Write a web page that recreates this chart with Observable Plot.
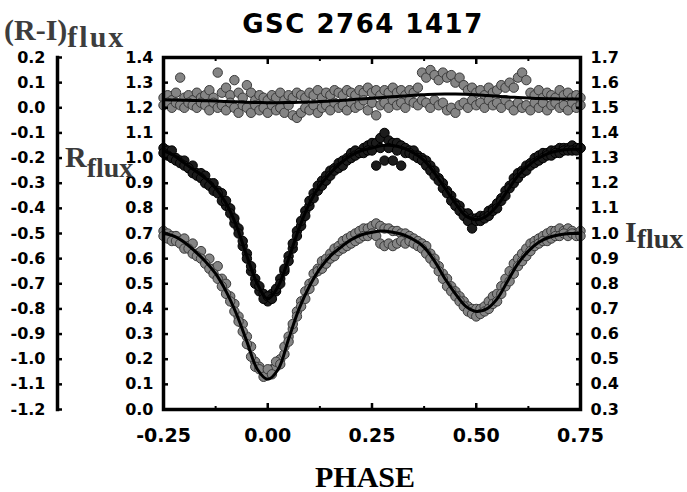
<!DOCTYPE html>
<html>
<head>
<meta charset="utf-8">
<script src="https://cdn.jsdelivr.net/npm/d3@7"></script>
<script src="https://cdn.jsdelivr.net/npm/@observablehq/plot@0.6"></script>
<style>
  body { margin: 0; background: #fff; }
  #wrap { position: relative; width: 687px; height: 492px; overflow: hidden; background: #fff; }
  #wrap > svg { position: absolute; left: 0; top: 0; }
</style>
</head>
<body>
<div id="wrap"></div>
<script>
// ---------- data ----------
const phase = [
-0.25,-0.24,-0.23,-0.22,-0.21,-0.20,-0.19,-0.18,-0.17,-0.16,
-0.15,-0.14,-0.13,-0.12,-0.11,-0.10,-0.09,-0.08,-0.07,-0.06,
-0.05,-0.04,-0.03,-0.02,-0.01,0.00,0.01,0.02,0.03,0.04,
0.05,0.06,0.07,0.08,0.09,0.10,0.11,0.12,0.13,0.14,
0.15,0.16,0.17,0.18,0.19,0.20,0.21,0.22,0.23,0.24,
0.25,0.26,0.27,0.28,0.29,0.30,0.31,0.32,0.33,0.34,
0.35,0.36,0.37,0.38,0.39,0.40,0.41,0.42,0.43,0.44,
0.45,0.46,0.47,0.48,0.49,0.50,0.51,0.52,0.53,0.54,
0.55,0.56,0.57,0.58,0.59,0.60,0.61,0.62,0.63,0.64,
0.65,0.66,0.67,0.68,0.69,0.70,0.71,0.72,0.73,0.74,
0.75];

// R flux, two observing sets
const rFluxA = [
1.04,1.03,1.03,1.00,0.99,0.99,0.96,0.97,0.94,0.94,
0.93,0.90,0.90,0.87,0.86,0.81,0.80,0.74,0.72,0.65,
0.62,0.55,0.52,0.47,0.46,0.43,0.46,0.47,0.52,0.55,
0.61,0.64,0.71,0.73,0.79,0.81,0.86,0.87,0.91,0.93,
0.95,0.96,0.98,0.99,1.00,1.02,1.03,1.02,1.04,1.05,
1.06,1.06,1.08,1.10,1.07,1.06,1.06,1.05,1.04,1.03,
1.03,1.01,1.00,0.99,0.97,0.95,0.92,0.90,0.87,0.85,
0.82,0.81,0.78,0.78,0.76,0.76,0.77,0.77,0.79,0.80,
0.82,0.84,0.87,0.89,0.92,0.94,0.95,0.97,0.98,1.00,
1.01,1.02,1.02,1.03,1.03,1.04,1.04,1.04,1.05,1.04,
1.04];
const rFluxB = [
1.02,1.01,1.00,0.99,0.98,0.97,0.96,0.94,0.93,0.92,
0.90,0.89,0.87,0.86,0.83,0.83,0.78,0.76,0.70,0.67,
0.60,0.57,0.50,0.49,0.44,0.45,0.44,0.48,0.50,0.56,
0.59,0.66,0.69,0.75,0.77,0.83,0.84,0.89,0.89,0.91,
0.93,0.95,0.96,0.97,0.99,1.00,1.01,1.02,1.02,1.03,
1.03,0.97,1.04,0.99,1.04,0.99,1.03,0.97,1.02,1.02,
1.01,1.00,0.99,0.97,0.95,0.93,0.91,0.88,0.86,0.83,
0.81,0.79,0.77,0.75,0.72,0.75,0.75,0.76,0.77,0.79,
0.80,0.83,0.85,0.88,0.90,0.92,0.94,0.95,0.97,0.98,
0.99,1.00,1.01,1.01,1.02,1.02,1.03,1.03,1.03,1.03,
1.04];

// I flux (right axis units)
const iFluxA = [
1.01,1.00,0.99,0.99,0.97,0.98,0.95,0.96,0.92,0.93,
0.89,0.90,0.86,0.87,0.82,0.80,0.75,0.72,0.67,0.64,
0.59,0.55,0.49,0.47,0.45,0.44,0.46,0.47,0.50,0.52,
0.59,0.62,0.69,0.73,0.77,0.80,0.84,0.86,0.89,0.90,
0.92,0.94,0.95,0.97,0.98,0.99,1.00,1.01,1.02,1.02,
1.03,1.04,1.03,1.02,1.02,1.01,1.01,1.00,1.00,0.99,
0.98,0.97,0.96,0.95,0.92,0.90,0.87,0.84,0.82,0.79,
0.77,0.75,0.73,0.71,0.70,0.70,0.70,0.71,0.73,0.75,
0.76,0.79,0.82,0.85,0.88,0.90,0.92,0.94,0.96,0.97,
0.98,0.99,1.00,1.01,1.01,1.02,1.01,1.02,1.01,1.00,
1.01];
const iFluxB = [
0.99,0.98,0.97,0.97,0.96,0.94,0.94,0.92,0.91,0.90,
0.88,0.86,0.84,0.82,0.79,0.76,0.73,0.69,0.65,0.61,
0.56,0.51,0.47,0.46,0.43,0.46,0.44,0.49,0.48,0.55,
0.57,0.64,0.67,0.71,0.74,0.78,0.81,0.85,0.86,0.88,
0.90,0.91,0.93,0.94,0.95,0.96,0.97,0.98,0.99,0.99,
1.00,0.99,0.96,0.95,0.96,0.95,0.96,0.97,0.96,0.97,
0.96,0.95,0.94,0.92,0.90,0.88,0.85,0.82,0.79,0.77,
0.75,0.73,0.71,0.69,0.68,0.67,0.68,0.69,0.70,0.72,
0.73,0.76,0.79,0.81,0.84,0.87,0.89,0.91,0.93,0.95,
0.96,0.97,0.97,0.98,0.99,0.99,1.00,0.99,1.00,0.99,
0.99];

// (R-I) flux (far-left axis units)
const riFluxA = [
0.04,0.05,0.03,0.06,0.12,0.04,0.05,0.03,0.06,0.04,
0.05,0.07,0.04,0.14,0.06,0.08,0.05,0.11,0.06,0.04,
0.09,0.06,0.03,0.05,0.04,0.03,0.05,0.04,0.06,0.03,
0.05,0.04,0.06,0.05,0.04,0.06,0.05,0.07,0.04,0.06,
0.05,0.07,0.06,0.05,0.07,0.06,0.05,0.07,0.06,0.08,
0.06,0.07,0.05,0.07,0.06,0.08,0.06,0.07,0.05,0.07,
0.06,0.08,0.14,0.12,0.15,0.13,0.11,0.14,0.12,0.13,
0.10,0.12,0.09,0.07,0.08,0.06,0.07,0.05,0.08,0.06,
0.07,0.09,0.08,0.10,0.08,0.12,0.14,0.11,0.06,0.05,
0.07,0.04,0.06,0.05,0.04,0.07,0.05,0.06,0.04,0.05,
0.04];
const riFluxB = [
0.01,0.02,0.00,0.02,0.01,0.00,0.02,0.01,0.00,0.02,
0.01,-0.01,0.02,0.00,0.01,-0.01,0.02,0.00,-0.02,0.01,
0.00,-0.02,0.01,-0.01,0.00,-0.02,0.01,-0.01,0.00,-0.02,
0.01,-0.03,-0.04,-0.02,0.00,-0.01,0.01,-0.02,0.00,0.01,
-0.01,0.02,0.00,0.01,-0.01,0.02,0.00,0.01,0.03,-0.01,
0.02,-0.03,0.01,0.02,0.00,0.03,0.01,0.02,0.00,0.03,
0.02,0.01,0.03,0.02,0.00,0.03,0.01,0.02,-0.01,0.00,
-0.02,0.01,0.02,0.00,0.03,0.01,0.02,0.00,0.03,0.01,
0.02,0.00,0.03,0.01,-0.01,0.02,0.00,0.01,-0.01,0.02,
0.00,0.02,-0.01,0.01,0.02,0.00,0.01,-0.01,0.02,0.00,
0.01];

// model fits
const fitPhase = [
-0.25,-0.225,-0.2,-0.175,-0.15,-0.125,-0.1,-0.075,-0.05,-0.025,
0,0.025,0.05,0.075,0.1,0.125,0.15,0.175,0.2,0.225,
0.25,0.275,0.3,0.325,0.35,0.375,0.4,0.425,0.45,0.475,
0.5,0.525,0.55,0.575,0.6,0.625,0.65,0.675,0.7,0.725,
0.75];
const rFit = [
1.03,1.01,0.98,0.95,0.92,0.88,0.82,0.73,0.61,0.50,
0.44,0.49,0.60,0.72,0.82,0.89,0.94,0.98,1.01,1.03,
1.04,1.05,1.05,1.04,1.02,0.99,0.94,0.88,0.82,0.77,
0.755,0.77,0.81,0.87,0.93,0.97,1.00,1.02,1.03,1.035,
1.035];
const iFit = [
1.00,0.99,0.965,0.93,0.89,0.84,0.77,0.68,0.57,0.46,
0.42,0.46,0.58,0.70,0.79,0.86,0.91,0.945,0.975,0.995,
1.005,1.01,1.005,0.995,0.975,0.945,0.89,0.82,0.76,0.71,
0.69,0.70,0.74,0.81,0.88,0.93,0.965,0.985,0.995,1.00,
1.00];
const riFit = [
0.032,0.031,0.030,0.029,0.028,0.027,0.025,0.024,0.022,0.021,
0.020,0.020,0.021,0.022,0.023,0.025,0.027,0.029,0.032,0.035,
0.038,0.041,0.044,0.047,0.050,0.052,0.054,0.055,0.055,0.054,
0.052,0.049,0.046,0.043,0.041,0.039,0.037,0.036,0.035,0.035,
0.035];

// axes
const xTicks = [-0.25, 0.00, 0.25, 0.50, 0.75];
const xMinorTicks = [-0.125, 0.125, 0.375, 0.625];
const rTicks = [0.0,0.1,0.2,0.3,0.4,0.5,0.6,0.7,0.8,0.9,1.0,1.1,1.2,1.3,1.4];
const iTicks = [0.3,0.4,0.5,0.6,0.7,0.8,0.9,1.0,1.1,1.2,1.3,1.4,1.5,1.6,1.7];
const riTicks = [-1.2,-1.1,-1.0,-0.9,-0.8,-0.7,-0.6,-0.5,-0.4,-0.3,-0.2,-0.1,0.0,0.1,0.2];

// offsets that map each flux onto the shared R-flux frame
const I_OFFSET = 0.3;   // I = R-frame + 0.3
const RI_OFFSET = 1.2;  // R-I = R-frame - 1.2

// ---------- tables ----------
const pts = (vals, shift) => phase.map((p, i) => ({phase: p, y: vals[i] + shift}));
const fit = (vals, shift) => fitPhase.map((p, i) => ({phase: p, y: vals[i] + shift}));

const W = 687, H = 492;
const M = {top: 57, bottom: 83, left: 163, right: 107};
const tickFont = "'DejaVu Sans', 'Liberation Sans', sans-serif";

const grayDot = {r: 4.7, fill: "#858585", stroke: "#3b3b3b", strokeWidth: 1};
const blackDot = {r: 4.7, fill: "#1c1c1c", stroke: "#000", strokeWidth: 1};
const fitLine = {curve: "catmull-rom", stroke: "#000", strokeWidth: 3};

const main = Plot.plot({
  width: W, height: H,
  marginTop: M.top, marginBottom: M.bottom, marginLeft: M.left, marginRight: M.right,
  style: {fontFamily: tickFont, fontWeight: "bold", fontSize: "16px", color: "#000", background: "transparent"},
  x: {domain: [-0.25, 0.75], axis: null},
  y: {domain: [0, 1.4], axis: null},
  marks: [
    Plot.dot(pts(riFluxA, RI_OFFSET), {x: "phase", y: "y", ...grayDot}),
    Plot.dot(pts(riFluxB, RI_OFFSET), {x: "phase", y: "y", ...grayDot}),
    Plot.dot(pts(rFluxA, 0), {x: "phase", y: "y", ...blackDot}),
    Plot.dot(pts(rFluxB, 0), {x: "phase", y: "y", ...blackDot}),
    Plot.dot(pts(iFluxA, -I_OFFSET), {x: "phase", y: "y", ...grayDot}),
    Plot.dot(pts(iFluxB, -I_OFFSET), {x: "phase", y: "y", ...grayDot}),
    Plot.line(fit(riFit, RI_OFFSET), {x: "phase", y: "y", ...fitLine}),
    Plot.line(fit(rFit, 0), {x: "phase", y: "y", ...fitLine}),
    Plot.line(fit(iFit, -I_OFFSET), {x: "phase", y: "y", ...fitLine}),
    Plot.frame({stroke: "#000", strokeWidth: 3.5}),
    Plot.axisY(rTicks, {anchor: "left", label: null, tickSize: -5, tickPadding: 15, strokeWidth: 2.5,
      tickFormat: d => d.toFixed(1), fontSize: 16}),
    Plot.axisY(iTicks.map(v => v - I_OFFSET), {anchor: "right", label: null, tickSize: -5, tickPadding: 15, strokeWidth: 2.5,
      tickFormat: d => (d + I_OFFSET).toFixed(1), fontSize: 16}),
    Plot.axisX(xTicks, {anchor: "bottom", label: null, tickSize: -6, tickPadding: 25, strokeWidth: 2.5,
      tickFormat: d => d.toFixed(2), fontSize: 19}),
    Plot.axisX(xTicks, {anchor: "top", label: null, tickSize: -6, strokeWidth: 2.5, tickFormat: () => ""}),
    Plot.axisX(xMinorTicks, {anchor: "bottom", label: null, tickSize: -3, strokeWidth: 2, tickFormat: () => ""}),
    Plot.axisX(xMinorTicks, {anchor: "top", label: null, tickSize: -3, strokeWidth: 2, tickFormat: () => ""})
  ]
});

const side = Plot.plot({
  width: 70, height: H,
  marginTop: M.top, marginBottom: M.bottom, marginLeft: 57, marginRight: 8,
  style: {fontFamily: tickFont, fontWeight: "bold", fontSize: "16px", color: "#000", background: "transparent"},
  y: {domain: [-1.2, 0.2], axis: null},
  marks: [
    Plot.frame({anchor: "left", stroke: "#000", strokeWidth: 3.5}),
    Plot.axisY(riTicks, {anchor: "left", label: null, tickSize: -5, tickPadding: 17, strokeWidth: 2.5,
      tickFormat: d => d.toFixed(1), fontSize: 16})
  ]
});

const wrap = document.getElementById("wrap");
wrap.appendChild(main);
wrap.appendChild(side);

// ---------- titles & axis labels ----------
const ann = d3.select(wrap).append("svg").attr("width", W).attr("height", H);
ann.append("text").attr("x", 363).attr("y", 33).attr("text-anchor", "middle")
  .attr("font-family", tickFont).attr("font-weight", "bold").attr("font-size", 26)
  .attr("letter-spacing", 1.5).attr("fill", "#000").text("GSC 2764 1417");

const serif = "'Liberation Serif', 'Times New Roman', serif";
function subLabel(x, y, main, sub, mainSize, subSize, dy, color, ls) {
  const t = ann.append("text").attr("x", x).attr("y", y)
    .attr("font-family", serif).attr("font-weight", "bold").attr("fill", color);
  t.append("tspan").attr("font-size", mainSize).text(main);
  t.append("tspan").attr("font-size", subSize).attr("dy", dy).attr("letter-spacing", ls).text(sub);
}
subLabel(4, 40, "(R-I)", "flux", 30, 30, 7, "#3d3d3d", 2);
subLabel(65, 167, "R", "flux", 30, 28, 10, "#3a3a3a", 0);
subLabel(625, 242, "I", "flux", 30, 28, 6, "#333", 0);

ann.append("text").attr("x", 365).attr("y", 487).attr("text-anchor", "middle")
  .attr("font-family", serif).attr("font-weight", "bold").attr("font-size", 30)
  .attr("fill", "#000").text("PHASE");
</script>
</body>
</html>
